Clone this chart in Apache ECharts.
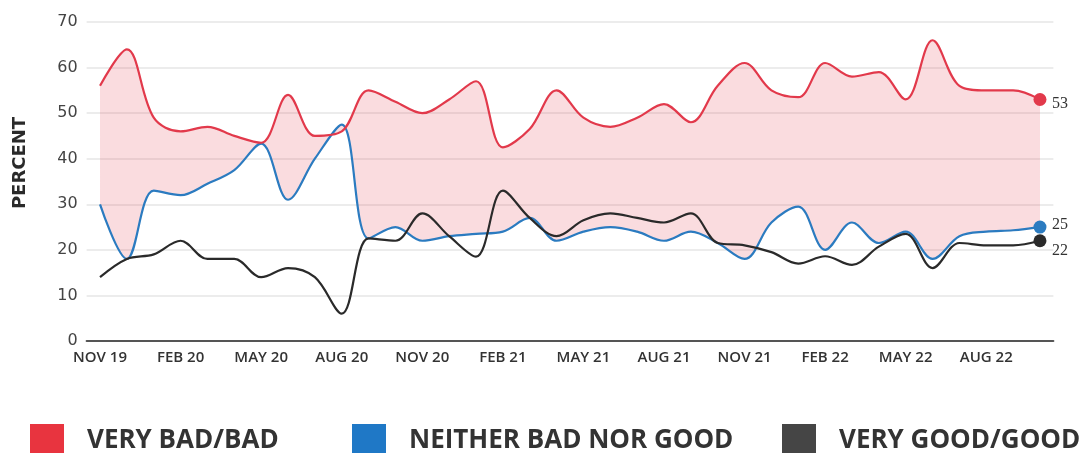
<!DOCTYPE html>
<html>
<head>
<meta charset="utf-8">
<script src="https://cdn.jsdelivr.net/npm/echarts@6/dist/echarts.min.js"></script>
<style>
html, body { margin: 0; padding: 0; background: #fff; }
#chart { width: 1088px; height: 453px; }
</style>
</head>
<body>
<div id="chart"></div>
<script>
// monthly survey, Nov 2019 - Oct 2022
const months = [
    "NOV 19", "DEC 19", "JAN 20", "FEB 20", "MAR 20", "APR 20", "MAY 20", "JUN 20", "JUL 20",
    "AUG 20", "SEP 20", "OCT 20", "NOV 20", "DEC 20", "JAN 21", "FEB 21", "MAR 21", "APR 21",
    "MAY 21", "JUN 21", "JUL 21", "AUG 21", "SEP 21", "OCT 21", "NOV 21", "DEC 21", "JAN 22",
    "FEB 22", "MAR 22", "APR 22", "MAY 22", "JUN 22", "JUL 22", "AUG 22", "SEP 22", "OCT 22"
];
const veryBad = [56, 64, 49, 46, 47, 45, 43.5, 54, 45, 46, 55, 52.5, 50, 53, 57, 42.5, 46.5, 55,
    49, 47, 49, 52, 48, 56, 61, 55, 53.5, 61, 58, 59, 53, 66, 56, 55, 55, 53];
const neither = [30, 18, 33, 32, 34.5, 37.5, 43.3, 31, 40, 47.5, 22.5, 25, 22, 23, 23.5, 24, 27, 22,
    24, 25, 24, 22, 24, 21.5, 18, 26, 29.5, 20, 26, 21.5, 24, 18, 23, 24, 24.3, 25];
const veryGood = [14, 18, 19, 22, 18, 18, 14, 16, 14, 6, 22.5, 22, 28, 23, 18.5, 33, 27, 23,
    26.5, 28, 27, 26, 28, 21.5, 21, 19.5, 17, 18.6, 16.7, 20.7, 23.5, 16, 21.5, 21, 21, 22];

const names = ["VERY BAD/BAD", "NEITHER BAD NOR GOOD", "VERY GOOD/GOOD"];
const colors = ["#e2394b", "#2b7bc0", "#2a2a2a"];
const legendColors = ["#e8343f", "#1f78c6", "#454545"];

const chart = echarts.init(document.getElementById("chart"));
const last = months.length - 1;
const smoothness = 0.35;

// pink band between "very bad" and "neither"
const gap = veryBad.map((v, i) => v - neither[i]);

function lineSeries(name, data, color, dy) {
    return {
        name: name,
        type: "line",
        data: data,
        smooth: smoothness,
        symbol: "circle",
        showSymbol: true,
        showAllSymbol: true,
        symbolSize: (val, p) => p.dataIndex === last ? 13 : 0,
        lineStyle: { color: color, width: 2.2 },
        itemStyle: { color: color, borderWidth: 0 },
        endLabel: {
            show: true,
            formatter: "{c}",
            distance: 12,
            offset: [0, dy],
            fontFamily: "Liberation Serif",
            fontSize: 16,
            color: "#333"
        },
        z: 3
    };
}

function legendFor(i, left) {
    return {
        data: [names[i]],
        left: left,
        top: 424,
        padding: 0,
        icon: "rect",
        itemWidth: 34,
        itemHeight: 34,
        selectedMode: false,
        itemStyle: { color: legendColors[i], borderWidth: 0 },
        textStyle: {
            fontFamily: "Open Sans",
            fontWeight: 700,
            fontSize: 26,
            color: "#333",
            padding: [0, 0, 0, 18]
        }
    };
}

const option = {
    animation: false,
    grid: { left: 86.6, right: 34.6, top: 22, bottom: 112, containLabel: false, outerBoundsMode: "none" },
    legend: [legendFor(0, 30), legendFor(1, 352), legendFor(2, 782)],
    graphic: [{
        type: "text",
        x: 20,
        y: 163,
        rotation: Math.PI / 2,
        style: {
            text: "PERCENT",
            fontFamily: "DejaVu Sans",
            fontWeight: "bold",
            fontSize: 18,
            fill: "#2a2a2a",
            align: "center",
            verticalAlign: "middle"
        }
    }],
    xAxis: {
        type: "category",
        data: months,
        boundaryGap: true,
        axisLine: { lineStyle: { color: "#555", width: 2 } },
        axisTick: { show: false },
        axisLabel: {
            interval: 2,
            margin: 9,
            fontFamily: "Open Sans",
            fontWeight: 600,
            fontSize: 15,
            color: "#333"
        },
        splitLine: { show: false }
    },
    yAxis: {
        type: "value",
        min: 0,
        max: 70,
        interval: 10,
        axisLine: { show: false },
        axisTick: { show: false },
        axisLabel: { margin: 9, fontFamily: "DejaVu Sans", fontSize: 16, color: "#444" },
        splitLine: { lineStyle: { color: "#e6e6e6", width: 1.5 } }
    },
    series: [
        {
            name: "base",
            type: "line",
            data: neither,
            stack: "band",
            stackStrategy: "all",
            smooth: smoothness,
            symbol: "none",
            lineStyle: { opacity: 0 },
            silent: true,
            z: 1
        },
        {
            name: "band",
            type: "line",
            data: gap,
            stack: "band",
            stackStrategy: "all",
            smooth: smoothness,
            symbol: "none",
            lineStyle: { opacity: 0 },
            areaStyle: { color: "rgba(226, 57, 75, 0.25)" },
            silent: true,
            z: 1
        },
        lineSeries(names[1], neither, colors[1], -2),
        lineSeries(names[2], veryGood, colors[2], 10),
        lineSeries(names[0], veryBad, colors[0], 4)
    ]
};
chart.setOption(option);
</script>
</body>
</html>
